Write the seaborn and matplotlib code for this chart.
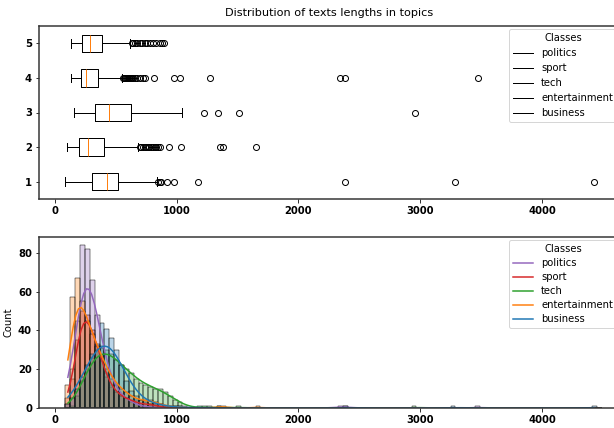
import numpy as np
import pandas as pd
import matplotlib
matplotlib.use("Agg")
import matplotlib.pyplot as plt
import seaborn as sns
from matplotlib.lines import Line2D

# ---------------- data ----------------
legend_classes = ["politics", "sport", "tech", "entertainment", "business"]
legend_colors = ["#9467bd", "#d62728", "#2ca02c", "#ff7f0e", "#1f77b4"]

# boxplot (top panel), positions 1..5
box_positions = [1, 2, 3, 4, 5]
box_whislo = [88, 104, 159, 132, 132]
box_q1 = [308, 200, 330, 217, 225]
box_med = [431, 275, 445, 256, 291]
box_q3 = [522, 404, 624, 357, 385]
box_whishi = [838, 687, 1044, 550, 618]
fliers_1 = [846, 860, 874, 921, 981, 1176, 2385, 3287, 4421]
fliers_2 = [700, 712, 725, 738, 750, 762, 775, 790, 805, 820, 835, 850, 866,
            934, 1039, 1360, 1382, 1654]
fliers_3 = [1223, 1338, 1514, 2960]
fliers_4 = [558, 566, 574, 582, 590, 598, 606, 614, 622, 632, 642, 655, 673,
            700, 728, 745, 816, 981, 1030, 1278, 2341, 2383, 3471]
fliers_5 = [632, 645, 660, 678, 700, 720, 740, 760, 785, 810, 835, 860, 880, 893]

# histogram (bottom panel): counts per bin, bins of width 40 starting at 88
bin_start = 88
bin_width = 40
n_bins = 110
counts_politics = [2, 20, 45, 84, 82, 66, 48, 32, 18, 12, 8, 6, 5, 3, 1, 1, 0, 1]
extra_politics = [981, 1030, 1278, 2341, 2383, 3471]
counts_sport = [5, 15, 35, 50, 48, 40, 32, 24, 16, 11, 8, 6, 5, 4, 3, 2, 2, 2, 1, 1]
extra_sport = []
counts_tech = [0, 1, 6, 14, 20, 26, 30, 31, 30, 28, 25, 22, 20, 18, 15, 13, 12,
               11, 10, 10, 8, 6, 4, 3, 1]
extra_tech = [1223, 1338, 1514, 2960]
counts_entertainment = [12, 57, 67, 55, 45, 38, 32, 27, 20, 15, 12, 10, 8, 6, 4,
                        4, 4, 4, 3, 2, 1, 1, 0, 1]
extra_entertainment = [1360, 1382, 1654]
counts_business = [2, 5, 10, 16, 22, 28, 33, 44, 41, 36, 30, 22, 14, 9, 6, 4, 3,
                   2, 2, 2, 1, 0, 1]
extra_business = [1176, 2385, 3287, 4421]

hue_order = ["business", "entertainment", "tech", "sport", "politics"]

# ---------------- build tables ----------------
class_counts = {
    "politics": (counts_politics, extra_politics),
    "sport": (counts_sport, extra_sport),
    "tech": (counts_tech, extra_tech),
    "entertainment": (counts_entertainment, extra_entertainment),
    "business": (counts_business, extra_business),
}
frames = []
for name, (cnts, extra) in class_counts.items():
    centers = bin_start + bin_width * (np.arange(len(cnts)) + 0.5)
    vals = np.concatenate([np.repeat(centers, cnts), np.asarray(extra, float)])
    frames.append(pd.DataFrame({"category": name, "length": vals}))
df = pd.concat(frames, ignore_index=True)
palette = dict(zip(legend_classes, legend_colors))

fliers_all = [fliers_1, fliers_2, fliers_3, fliers_4, fliers_5]
stats = []
for i in range(5):
    stats.append(dict(med=box_med[i], q1=box_q1[i], q3=box_q3[i],
                      whislo=box_whislo[i], whishi=box_whishi[i],
                      fliers=fliers_all[i]))

# ---------------- figure ----------------
W, H = 614, 428
fig = plt.figure(figsize=(W / 72, H / 72), dpi=72)
ax1 = fig.add_axes([39 / W, 1 - 199 / H, 581 / W, 173 / H])
ax2 = fig.add_axes([39 / W, 1 - 408 / H, 581 / W, 171 / H])

try:
    ax1.bxp(stats, positions=box_positions, widths=0.5, orientation="horizontal")
except TypeError:
    ax1.bxp(stats, positions=box_positions, widths=0.5, vert=False)
ax1.set_yticks(box_positions)
ax1.set_yticklabels([str(p) for p in box_positions])
ax1.set_title("Distribution of texts lengths in topics", fontsize=11.3, pad=10)
ax1.legend(handles=[Line2D([], [], color="black", lw=1) for _ in legend_classes],
           labels=legend_classes, title="Classes", loc="upper right",
           borderaxespad=0.3)

sns.histplot(data=df, x="length", hue="category", hue_order=hue_order,
             palette=palette, binwidth=bin_width,
             binrange=(bin_start, bin_start + bin_width * n_bins),
             kde=True, alpha=0.3, ax=ax2, legend=False)
ax2.set_xlabel("")
ax2.set_ylabel("Count")
ax2.set_xlim(ax1.get_xlim())
ax2.legend(handles=[Line2D([], [], color=c, lw=1.5) for c in legend_colors],
           labels=legend_classes, title="Classes", loc="upper right",
           borderaxespad=0.3, labelspacing=0.4)

for ax in (ax1, ax2):
    for s in ax.spines.values():
        s.set_linewidth(1.5)
        s.set_color("#333333")
    for lab in ax.get_xticklabels() + ax.get_yticklabels():
        lab.set_fontweight("bold")

fig.savefig("out.png", dpi=72)
